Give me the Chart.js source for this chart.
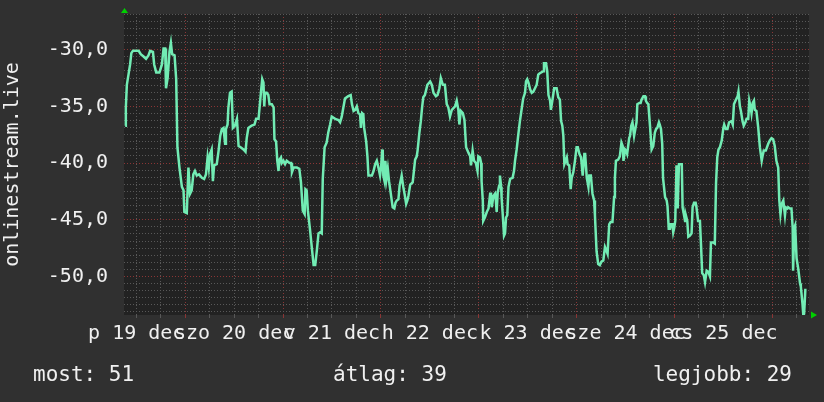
<!DOCTYPE html>
<html>
<head>
<meta charset="utf-8">
<script src="https://cdn.jsdelivr.net/npm/chart.js@4/dist/chart.umd.min.js"></script>
<style>
  html, body { margin: 0; padding: 0; background: #303030; }
  #wrap { position: relative; width: 824px; height: 402px; overflow: hidden; }
  #c { position: absolute; left: 0; top: 0; }
  .stat { position: absolute; top: 362px; font: 21px 'DejaVu Sans Mono', monospace; color: #f0f0f0; white-space: pre; line-height: 24px; }
</style>
</head>
<body>
<div id="wrap">
  <canvas id="c" width="824" height="402"></canvas>
  <div class="stat" id="stat0" style="left:33px"></div>
  <div class="stat" id="stat1" style="left:333px"></div>
  <div class="stat" id="stat2" style="right:32px"></div>
</div>
<script>
// Time axis is in hours counted from 19 dec 00:00.
const dayNames = ['p', 'szo', 'v', 'h', 'k', 'sze', 'cs'];
const dayNumbers = [19, 20, 21, 22, 23, 24, 25];
const monthName = 'dec';
const labelHours = [12, 36, 60, 84, 108, 132, 156];   // labels sit at noon
const yLabelValues = [-50, -45, -40, -35, -30];

const statNames = ['most', 'átlag', 'legjobb'];
const statValues = [51, 39, 29];

const sampleHours = [
  9.3, 9.45, 9.7, 10.1, 10.5, 10.8, 11.2, 12.6, 13.1, 13.8, 14.4, 15.0, 15.4, 16.1, 16.4, 16.9, 17.7, 18.3, 18.7, 19.1,
  19.3, 19.7, 20.15, 20.5, 20.8, 21.4, 21.8, 22.1, 22.6, 23.2, 23.6, 23.8, 24.4, 24.8, 25.2, 25.6, 26.0, 26.4, 26.85, 27.4,
  28.1, 28.65, 29.1, 29.5, 29.8, 30.1, 30.5, 30.8, 31.1, 31.75, 32.2, 32.6, 33.0, 33.4, 33.8, 34.0, 34.4, 34.6, 35.0, 35.4,
  35.7, 36.2, 36.7, 37.1, 37.6, 38.3, 38.8, 39.1, 39.5, 40.3, 41.0, 41.4, 42.0,
  42.6, 42.9, 43.2, 43.4, 43.6, 44.0, 44.4, 44.7, 45.25, 45.7, 45.9, 46.3, 46.6, 46.9, 47.1, 47.5, 47.7, 48.1, 48.5, 48.9,
  49.6, 50.0, 50.2, 50.6, 51.4, 52.0, 52.4, 52.85, 53.3, 53.5, 53.8, 54.1, 54.6, 55.1, 55.5, 55.9, 56.3, 56.7, 57.1, 57.5,
  57.75, 58.2, 58.7, 59.1, 59.55, 59.95, 60.4, 60.8, 61.6, 62.0, 62.4, 62.8, 63.2, 64.0, 64.6, 64.9, 65.3, 65.7, 66.1, 66.5,
  66.9, 67.1, 67.4, 67.7, 67.9, 68.4, 68.7, 68.95, 69.8, 70.2, 70.6, 71.0, 71.4, 71.8, 72.05, 72.3, 72.45, 72.6, 72.9, 73.1,
  73.4, 73.7, 74.0, 74.4, 74.9, 75.3, 75.6, 75.9, 76.3, 76.6,
  77.1, 77.5, 77.9, 78.2, 78.5, 78.75, 79.2, 79.8, 80.1, 80.4, 80.8, 81.0, 81.45, 81.8, 82.1, 82.4, 82.8, 83.4, 84.1, 84.5,
  84.9, 85.5, 85.9, 86.35, 86.7, 87.2, 87.7, 88.15, 88.55, 88.95, 89.4, 90.2, 90.6, 91.0, 91.25, 91.6, 92.1, 92.5, 92.9, 93.5,
  93.9, 94.1, 94.5, 94.85, 95.3, 95.7, 95.9, 96.3, 96.6, 96.7, 97.0, 97.1, 97.5, 98.0, 98.4, 98.8, 99.0, 99.2, 99.6, 100.0,
  100.2, 100.4, 100.65, 101.0, 101.2, 101.5, 101.6, 101.9, 102.2, 102.45, 102.7, 103.0, 103.3, 103.7, 104.3, 104.65, 104.9, 105.3, 105.7, 106.1,
  106.5, 106.9, 107.35, 107.6, 107.9, 108.2, 108.6, 109.0, 109.4, 109.8, 110.2, 110.6, 110.9,
  111.85, 112.0, 112.5, 112.8, 113.1, 113.5, 113.7, 114.05, 114.5, 115.1, 115.5, 115.9, 116.2, 116.5, 116.75, 117.0, 117.6, 117.8, 118.2, 118.55,
  118.8, 119.2, 119.6, 120.0, 120.3, 120.7, 121.1, 121.5, 121.9, 122.1, 122.5, 122.9, 123.1, 123.5, 123.9, 124.3, 124.5, 124.9, 125.3, 125.7,
  126.1, 126.55, 126.96, 127.4, 127.6, 128.0, 128.35, 128.8, 129.2, 129.4, 129.65, 130.2, 130.6, 131.0, 131.3, 131.5, 131.9, 132.1, 132.4, 132.9,
  133.1, 133.4, 133.7, 134.1, 134.3, 134.7, 134.9, 135.4, 135.7, 135.95, 136.4, 136.8, 137.0, 137.3, 137.6, 138.0, 138.4, 138.8, 139.2, 139.5,
  139.8, 140.2, 140.4, 140.7, 141.0, 141.2, 141.7, 142.1, 142.3, 142.6, 142.9, 143.1, 143.5, 143.7, 143.95, 144.2, 144.5, 144.8, 145.1,
  145.8, 146.0, 146.3, 146.6, 146.8, 147.15, 147.4, 147.8, 148.2, 148.45, 148.8, 149.2, 149.4, 149.8, 150.25, 150.5, 150.8, 151.2, 151.5, 151.9,
  152.3, 152.7, 152.95, 153.5, 153.9, 154.2, 154.5, 154.8, 155.15, 155.6, 156.0, 156.2, 156.6, 157.0, 157.4, 158.0, 158.3, 158.6, 159.1, 159.5,
  159.7, 160.05, 160.3, 160.7, 161.0, 161.4, 161.7, 162.1, 162.35, 162.7, 162.9, 163.2, 163.5, 163.7, 164.1, 164.55, 164.95, 165.4, 165.6, 165.9,
  166.4, 167.0, 167.4, 167.8, 168.2, 168.6, 169.0, 169.45, 169.7, 170.0, 170.3, 170.7, 171.1, 171.3, 171.7, 171.9, 172.3, 172.7, 173.0, 173.1,
  173.4, 173.6, 173.95, 174.35, 174.8, 175.0, 175.4, 175.6, 175.8, 176.1, 176.4
];

const sampleValues = [
  -36.7, -35.1, -33.1, -32.2, -31.3, -30.3, -30.1, -30.1, -30.4, -30.6, -30.8, -30.5, -30.1, -30.2, -31.3, -32.0, -32.0, -31.3, -29.9, -29.9,
  -33.4, -32.5, -30.2, -29.4, -30.4, -30.5, -32.6, -38.6, -40.4, -42.1, -42.4, -44.3, -44.4, -40.4, -42.7, -42.4, -41.0, -40.7, -41.1, -41.0,
  -41.3, -41.4, -41.0, -39.5, -40.4, -39.2, -38.8, -41.6, -40.2, -40.1, -38.9, -37.6, -37.0, -36.9, -38.3, -37.0, -36.6, -35.1, -33.8, -33.7,
  -36.9, -36.7, -36.1, -38.5, -38.6, -38.8, -39.0, -37.8, -36.9, -36.7, -36.6, -36.1, -36.1,
  -33.7, -32.6, -32.9, -35.0, -33.8, -33.8, -34.0, -34.8, -34.8, -35.1, -37.9, -38.1, -39.8, -40.7, -39.7, -39.5, -40.0, -39.8, -40.1, -39.8,
  -40.0, -40.0, -40.8, -40.4, -40.4, -40.5, -41.7, -44.2, -44.5, -42.3, -42.4, -44.2, -45.8, -47.6, -49.0, -49.0, -47.7, -46.2, -46.1, -46.2,
  -41.4, -38.6, -38.2, -37.3, -36.6, -35.9, -36.0, -36.1, -36.2, -36.4, -35.9, -35.1, -34.3, -34.1, -34.0, -34.8, -35.4, -35.3, -35.0, -35.6,
  -35.7, -36.9, -35.6, -35.7, -36.9, -38.1, -39.4, -41.1, -41.1, -40.7, -40.1, -39.8, -40.4, -41.1, -40.4, -38.9, -38.8, -41.1, -41.6, -39.8,
  -41.3, -40.5, -41.6, -42.6, -43.9, -44.0, -43.5, -43.3, -43.2, -42.0,
  -41.1, -42.1, -42.9, -43.6, -43.3, -42.9, -41.9, -41.7, -40.7, -39.7, -39.4, -38.9, -37.3, -36.3, -35.1, -34.2, -34.0, -33.1, -32.8, -33.1,
  -33.8, -34.1, -34.0, -33.4, -32.5, -33.1, -33.1, -34.8, -35.1, -35.9, -35.3, -35.0, -34.5, -35.3, -36.6, -35.4, -35.6, -36.2, -38.6, -39.1,
  -39.4, -40.2, -38.9, -39.8, -40.0, -40.7, -39.4, -39.5, -40.0, -41.6, -43.3, -45.1, -44.8, -44.3, -44.0, -42.7, -42.6, -43.9, -42.9, -42.7,
  -43.3, -44.3, -42.6, -42.0, -41.1, -42.1, -43.0, -44.6, -46.4, -46.2, -44.8, -44.6, -42.1, -41.4, -41.3, -40.7, -39.8, -38.8, -37.5, -36.3,
  -35.3, -34.3, -33.8, -32.8, -32.6, -32.9, -33.5, -33.8, -33.7, -33.4, -33.1, -32.2, -32.1,
  -31.9, -31.2, -31.2, -31.9, -34.0, -34.5, -35.3, -34.5, -33.4, -33.4, -34.2, -34.4, -36.3, -36.7, -37.6, -40.1, -39.5, -40.1, -40.2, -42.3,
  -41.3, -40.8, -39.8, -38.6, -38.6, -39.2, -39.5, -41.1, -39.2, -39.2, -41.3, -42.1, -41.1, -41.1, -42.7, -43.3, -44.6, -47.8, -48.9, -49.0,
  -48.7, -48.6, -47.4, -47.8, -48.0, -45.4, -45.2, -45.2, -43.0, -41.3, -39.8, -39.7, -39.4, -38.2, -38.5, -39.8, -38.8, -38.9, -39.2, -37.8,
  -37.6, -36.7, -36.4, -37.6, -37.6, -36.4, -34.8, -34.7, -34.7, -34.4, -34.1, -34.1, -34.5, -34.7, -34.8, -36.7, -38.8, -38.5, -37.3, -37.0,
  -36.9, -36.4, -36.6, -37.0, -38.3, -41.3, -43.0, -43.3, -43.8, -45.8, -45.8, -45.4, -45.4, -46.1, -45.7, -45.1, -40.2, -44.0, -40.1,
  -40.1, -43.9, -44.5, -45.1, -44.6, -45.1, -46.5, -46.4, -46.2, -43.9, -43.5, -43.5, -43.9, -45.1, -45.1, -47.1, -49.7, -49.9, -50.5, -49.5,
  -49.6, -50.0, -47.0, -47.0, -47.1, -41.8, -39.5, -38.8, -38.6, -38.0, -36.9, -36.6, -37.0, -37.0, -36.4, -36.3, -36.6, -34.8, -34.4, -34.1,
  -33.7, -35.0, -35.4, -36.3, -36.7, -36.4, -36.1, -36.1, -34.5, -35.1, -35.6, -34.7, -34.5, -35.3, -35.4, -36.9, -38.6, -39.8, -39.4, -38.9,
  -38.9, -38.3, -38.0, -37.8, -37.9, -38.5, -39.8, -40.4, -43.2, -44.5, -43.6, -43.3, -44.6, -43.9, -44.0, -43.9, -44.0, -44.0, -45.7, -49.5,
  -45.7, -45.5, -48.4, -49.3, -50.6, -50.9, -52.4, -53.4, -53.3, -51.2, -51.2
];

const X_MIN = 9, X_MAX = 177;
const Y_MIN = -53.4, Y_MAX = -26.85;
const Y_MINOR = 0.625;

const TEXT = '#f0f0f0';
const FONT = 'DejaVu Sans Mono';
const GRID_MAJOR = '#8a3535';
const GRID_MINOR = '#585858';

// footer statistics
statNames.forEach((n, i) => {
  document.getElementById('stat' + i).textContent = n + ': ' + statValues[i];
});

// grid positions: every 6 hours on x, every 0.625 on y
const xGrid = [];
for (let h = 12; h < X_MAX; h += 6) xGrid.push(h);
const yGrid = [];
for (let k = Math.ceil(Y_MIN / Y_MINOR); k * Y_MINOR <= Y_MAX; k++) yGrid.push(k * Y_MINOR);

const near = (a, b) => Math.abs(a - b) < 1e-6;
const isMidnight = h => near(h % 24, 0);
const isYMajor = v => yLabelValues.some(l => near(l, v));

function dayLabel(h) {
  const i = labelHours.findIndex(l => near(l, h));
  return i < 0 ? '' : dayNames[i] + ' ' + dayNumbers[i] + ' ' + monthName;
}

const plotBackground = {
  id: 'plotBackground',
  beforeDraw(chart) {
    const { ctx, chartArea: a } = chart;
    ctx.save();
    ctx.fillStyle = '#222222';
    ctx.fillRect(a.left, a.top, a.right - a.left, a.bottom - a.top);
    ctx.restore();
  }
};

// small green arrow heads at the ends of the two axes
const axisArrows = {
  id: 'axisArrows',
  afterDraw(chart) {
    const { ctx, chartArea: a } = chart;
    ctx.save();
    ctx.fillStyle = '#00d000';
    ctx.beginPath();
    ctx.moveTo(a.left - 3, a.top - 1);
    ctx.lineTo(a.left + 4, a.top - 1);
    ctx.lineTo(a.left + 0.5, a.top - 6);
    ctx.closePath();
    ctx.fill();
    ctx.beginPath();
    ctx.moveTo(a.right + 2, a.bottom - 3.5);
    ctx.lineTo(a.right + 2, a.bottom + 3.5);
    ctx.lineTo(a.right + 8, a.bottom);
    ctx.closePath();
    ctx.fill();
    ctx.restore();
  }
};

new Chart(document.getElementById('c'), {
  type: 'line',
  data: {
    datasets: [{
      data: sampleHours.map((h, i) => ({ x: h, y: sampleValues[i] })),
      borderColor: '#72ecb4',
      borderWidth: 2.5,
      pointRadius: 0,
      tension: 0,
      fill: false
    }]
  },
  options: {
    responsive: false,
    animation: false,
    events: [],
    layout: { padding: { top: 14, right: 15, left: 0, bottom: 0 } },
    plugins: { legend: { display: false }, tooltip: { enabled: false } },
    scales: {
      x: {
        type: 'linear',
        min: X_MIN,
        max: X_MAX,
        afterBuildTicks: s => { s.ticks = xGrid.map(v => ({ value: v })); },
        afterFit: s => { s.height = 87; s.paddingLeft = 0; s.paddingRight = 0; },
        grid: {
          color: c => isMidnight(c.tick.value) ? GRID_MAJOR : GRID_MINOR,
          tickColor: c => isMidnight(c.tick.value) ? GRID_MAJOR : GRID_MINOR,
          lineWidth: 1,
          drawTicks: true,
          tickLength: 3
        },
        border: { display: false, dash: [1, 2] },
        ticks: {
          autoSkip: false,
          maxRotation: 0,
          minRotation: 0,
          padding: 4,
          color: TEXT,
          font: { family: FONT, size: 20 },
          callback: v => dayLabel(v)
        }
      },
      y: {
        type: 'linear',
        min: Y_MIN,
        max: Y_MAX,
        afterBuildTicks: s => { s.ticks = yGrid.map(v => ({ value: v })); },
        afterFit: s => { s.width = 124; s.paddingTop = 0; s.paddingBottom = 0; },
        grid: {
          color: c => isYMajor(c.tick.value) ? GRID_MAJOR : GRID_MINOR,
          lineWidth: 1,
          drawTicks: false
        },
        border: { display: false, dash: [1, 2] },
        ticks: {
          autoSkip: false,
          padding: 16,
          color: TEXT,
          font: { family: FONT, size: 20 },
          callback: v => isYMajor(v) ? v.toFixed(1).replace('.', ',') : ''
        },
        title: {
          display: true,
          text: 'onlinestream.live',
          color: TEXT,
          font: { family: FONT, size: 20 },
          padding: { top: 1, bottom: 0 }
        }
      }
    }
  },
  plugins: [plotBackground, axisArrows]
});
</script>
</body>
</html>
